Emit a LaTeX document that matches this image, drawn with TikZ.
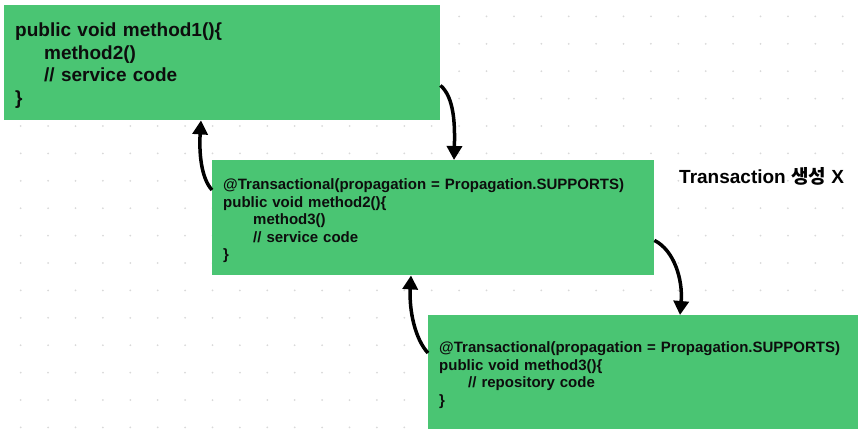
\documentclass[tikz,border=0pt]{standalone}
\usepackage{fontspec}
\setmainfont{Liberation Sans}
\newfontfamily\kofont{Noto Sans CJK KR}
\usepackage{tikz}
\usetikzlibrary{arrows.meta}
\usetikzlibrary{calc}
\usetikzlibrary{positioning}
\definecolor{boxgreen}{HTML}{4AC573}

\begin{document}
\begin{tikzpicture}[x=1pt,y=-1pt,
	code_box/.style={rectangle,fill=boxgreen,anchor=north west,inner xsep=11pt,inner ysep=0pt,align=left,text=black!95},
	big_text/.style={font=\fontsize{19}{22.5}\selectfont\bfseries,execute at begin node={\rule{0pt}{20pt}}},
	small_text/.style={font=\fontsize{15}{17.5}\selectfont\bfseries,execute at begin node={\rule{0pt}{17pt}}},
	call_arrow/.style={line width=3.5pt,-{Triangle[length=14pt,width=15pt]}}]
				\useasboundingbox (0,0) rectangle (862,434);
				\foreach \i in {0,...,30}
					\foreach \j in {0,...,15}
						\fill[gray!30] (20.7+27.4*\i,16.4+27.4*\j) circle (1pt);
				\node[code_box,big_text,minimum width=436pt,minimum height=115pt,text width=414pt](m1) at (4,5){public void method1()\{\\ \hspace*{29pt}method2()\\ \hspace*{29pt}// service code\\ \}};
				\node[code_box,small_text,minimum width=442pt,minimum height=115pt,text width=420pt](m2) at (212,160){@Transactional(propagation = Propagation.SUPPORTS)\\ public void method2()\{\\ \hspace*{30pt}method3()\\ \hspace*{30pt}// service code\\ \}};
				\node[code_box,small_text,minimum width=430pt,minimum height=114pt,text width=408pt](m3) at (428,315){@Transactional(propagation = Propagation.SUPPORTS)\\ public void method3()\{\\ \hspace*{29pt}// repository code\\ \}};
				\node[anchor=base west,inner sep=0pt,font=\fontsize{19}{19}\selectfont\bfseries](note) at (679,183){Transaction {\kofont 생성} X};
				\coordinate (m1out) at ([yshift=35pt]m1.south east);
				\coordinate (m2in) at ([xshift=242pt]m2.north west);
				\coordinate (m2back) at ([yshift=-30pt]m2.north west);
				\coordinate (m1in) at ([xshift=197pt]m1.south west);
				\coordinate (m2out) at ([yshift=35pt]m2.south east);
				\coordinate (m3in) at ([xshift=252pt]m3.north west);
				\coordinate (m3back) at ([yshift=-38pt]m3.north west);
				\coordinate (m2ret) at ([xshift=199pt]m2.south west);
				\draw[call_arrow] (m1out) .. controls +(14,12) and +(1,-35) .. (m2in);
				\draw[call_arrow] (m2back) .. controls +(-11,-12) and +(-2,32) .. (m1in);
				\draw[call_arrow] (m2out) .. controls +(20,10) and +(3,-35) .. (m3in);
				\draw[call_arrow] (m3back) .. controls +(-13,-14) and +(-2,35) .. (m2ret);
			\end{tikzpicture}
\end{document}
